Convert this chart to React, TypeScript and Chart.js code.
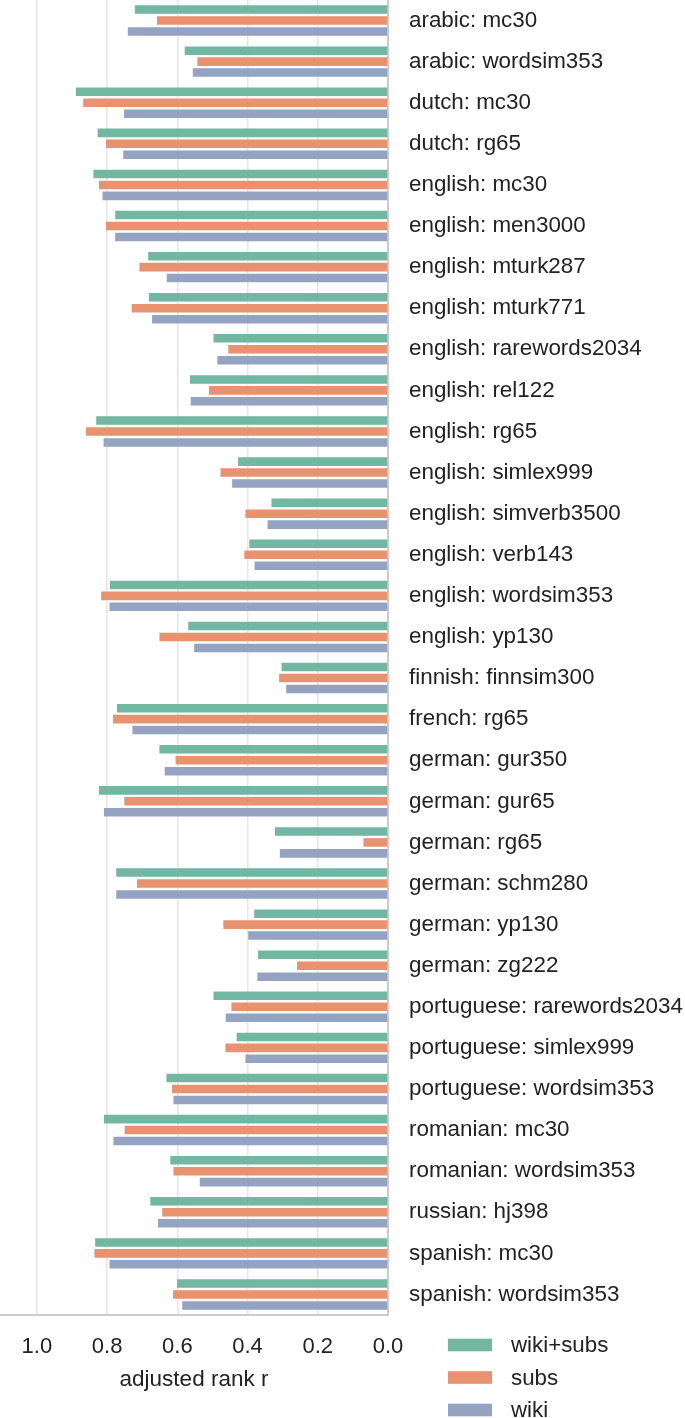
import React, { useEffect, useRef } from "react";
import { Chart, registerables } from "chart.js";

Chart.register(...registerables);

const categories = [
  "arabic: mc30", "arabic: wordsim353", "dutch: mc30", "dutch: rg65",
  "english: mc30", "english: men3000", "english: mturk287", "english: mturk771",
  "english: rarewords2034", "english: rel122", "english: rg65", "english: simlex999",
  "english: simverb3500", "english: verb143", "english: wordsim353", "english: yp130",
  "finnish: finnsim300", "french: rg65", "german: gur350", "german: gur65",
  "german: rg65", "german: schm280", "german: yp130", "german: zg222",
  "portuguese: rarewords2034", "portuguese: simlex999", "portuguese: wordsim353",
  "romanian: mc30", "romanian: wordsim353", "russian: hj398", "spanish: mc30",
  "spanish: wordsim353",
];

const wikiSubs = [0.721, 0.579, 0.889, 0.827, 0.839, 0.777, 0.683, 0.681, 0.497, 0.564, 0.831, 0.427, 0.332, 0.395, 0.792, 0.569, 0.303, 0.772, 0.651, 0.823, 0.322, 0.774, 0.381, 0.370, 0.497, 0.431, 0.631, 0.809, 0.620, 0.677, 0.834, 0.601];
const subs = [0.658, 0.543, 0.868, 0.803, 0.823, 0.803, 0.708, 0.730, 0.455, 0.510, 0.860, 0.477, 0.406, 0.409, 0.817, 0.651, 0.310, 0.783, 0.605, 0.751, 0.070, 0.715, 0.469, 0.259, 0.446, 0.463, 0.615, 0.750, 0.611, 0.643, 0.836, 0.612];
const wiki = [0.741, 0.556, 0.752, 0.754, 0.813, 0.777, 0.630, 0.672, 0.486, 0.562, 0.810, 0.444, 0.343, 0.380, 0.793, 0.552, 0.290, 0.728, 0.636, 0.809, 0.308, 0.774, 0.398, 0.372, 0.462, 0.406, 0.611, 0.782, 0.536, 0.655, 0.793, 0.586];

const seriesNames = ["wiki+subs", "subs", "wiki"];
const seriesColors = ["#71b7a1", "#e8926f", "#95a3c3"];
const xTicks = [0, 0.2, 0.4, 0.6, 0.8, 1.0];
const axisTitle = "adjusted rank r";

const FONT = "'Liberation Sans', Arial, Helvetica, sans-serif";
const TEXT = "#222222";

const legendPlugin = {
  id: "customLegend",
  afterDraw(chart: any) {
    const ctx = chart.ctx;
    ctx.save();
    const ys = [1345, 1377.5, 1410];
    ctx.font = `22.3px ${FONT}`;
    ctx.textBaseline = "middle";
    ctx.textAlign = "left";
    seriesNames.forEach((name, i) => {
      ctx.fillStyle = seriesColors[i];
      ctx.fillRect(448, ys[i] - 6.3, 44, 12.6);
      ctx.fillStyle = TEXT;
      ctx.fillText(name, 511, ys[i] + 1);
    });
    ctx.restore();
  },
};

export default function App() {
  const ref = useRef<HTMLCanvasElement | null>(null);

  useEffect(() => {
    if (!ref.current) return;
    const series = [wikiSubs, subs, wiki];
    const chart = new Chart(ref.current, {
      type: "bar",
      data: {
        labels: categories,
        datasets: series.map((d, i) => ({
          label: seriesNames[i],
          data: d,
          backgroundColor: seriesColors[i],
          borderWidth: 0,
          categoryPercentage: 0.8,
          barPercentage: 0.78,
        })),
      },
      options: {
        indexAxis: "y",
        animation: false,
        responsive: false,
        maintainAspectRatio: false,
        layout: { padding: 0 },
        plugins: {
          legend: { display: false },
          tooltip: { enabled: false },
          title: { display: false },
        },
        scales: {
          x: {
            type: "linear",
            position: "bottom",
            reverse: true,
            min: 0,
            max: 1.105,
            afterBuildTicks: (scale: any) => {
              scale.ticks = xTicks.map((v) => ({ value: v }));
            },
            afterFit: (scale: any) => {
              scale.height = 103;
              scale.paddingLeft = 0;
              scale.paddingRight = 0;
            },
            grid: {
              color: "#e6e6e6",
              lineWidth: 1.5,
              drawTicks: false,
            },
            border: { display: true, color: "#cccccc", width: 2 },
            ticks: {
              font: { family: FONT, size: 22 },
              color: TEXT,
              padding: 18.5,
              maxRotation: 0,
              callback: (v: any) => Number(v).toFixed(1),
            },
            title: {
              display: true,
              text: axisTitle,
              font: { family: FONT, size: 22.5 },
              color: TEXT,
              padding: { top: 0, bottom: 24.5 },
            },
          },
          y: {
            type: "category",
            position: "right",
            afterFit: (scale: any) => {
              scale.width = 297;
              scale.paddingTop = 0;
              scale.paddingBottom = 0;
            },
            grid: { display: false, drawTicks: false },
            border: { display: true, color: "#cccccc", width: 2 },
            ticks: {
              font: { family: FONT, size: 22.4 },
              color: TEXT,
              padding: 21,
              autoSkip: false,
            },
          },
        },
      },
      plugins: [legendPlugin],
    } as any);
    return () => chart.destroy();
  }, []);

  return (
    <div style={{ position: "absolute", left: 0, top: 0, width: 685, height: 1418, background: "#ffffff" }}>
      <canvas ref={ref} width={685} height={1418} style={{ display: "block" }} />
    </div>
  );
}
